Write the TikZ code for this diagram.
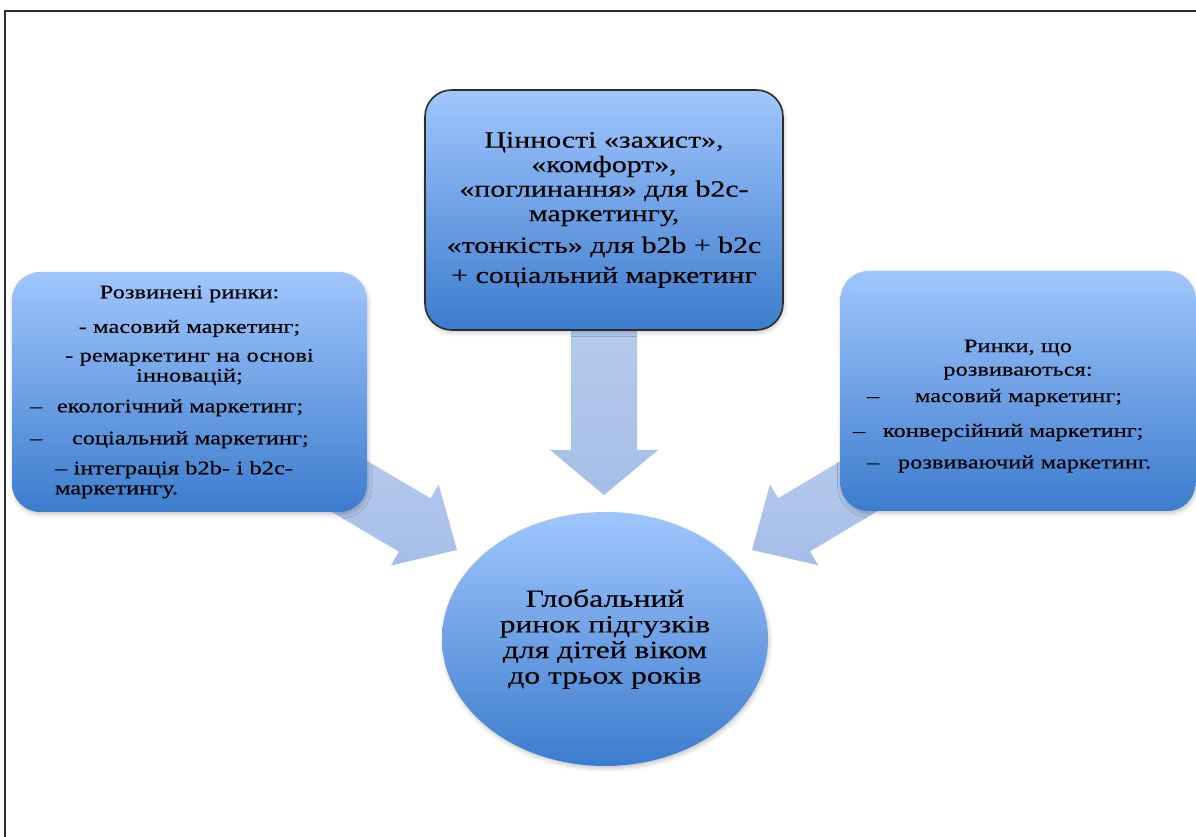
\documentclass[tikz,border=0pt]{standalone}
\usepackage{fontspec}
\setmainfont{Liberation Serif}[FakeStretch=1.28, FakeBold=0.3]
\usetikzlibrary{calc,shapes.geometric,shadows.blur}

\definecolor{panelLight}{RGB}{160,198,253}
\definecolor{panelDark}{RGB}{60,124,205}
\definecolor{arrowLight}{RGB}{192,209,238}
\definecolor{arrowDark}{RGB}{166,190,232}
\definecolor{rimGray}{RGB}{45,45,45}

% one drawing unit = one pixel of the layout grid
\newlength{\pxl}\setlength{\pxl}{0.75pt}

\tikzset{
  softshadow/.style={blur shadow={shadow xshift=0.8pt, shadow yshift=-2pt,
      shadow blur radius=3pt, shadow opacity=22}},
  panel/.style={rectangle, rounded corners=21pt, minimum width=266.25pt,
      minimum height=180pt, inner sep=0pt, top color=panelLight,
      bottom color=panelDark, softshadow},
  hub/.style={ellipse, minimum width=244.5pt, minimum height=190.5pt,
      inner sep=0pt, top color=panelLight, bottom color=panelDark, softshadow},
  arrowbody/.style={top color=arrowLight, bottom color=arrowDark},
  framestyle/.style={line width=1.5pt, draw=rimGray}
}

% block arrow: start, tip, shaft half width, head half width, head length
\newcommand{\blockarrow}[5]{%
  \path ($(#2)!#5!(#1)$) coordinate (hb);
  \path[arrowbody] ($(#1)!#3!90:(#2)$) -- ($(hb)!#3!90:(#2)$)
    -- ($(hb)!#4!90:(#2)$) -- (#2) -- ($(hb)!#4!-90:(#2)$)
    -- ($(hb)!#3!-90:(#2)$) -- ($(#1)!#3!-90:(#2)$) -- cycle;
}

\begin{document}
\begin{tikzpicture}[x=0.75pt, y=-0.75pt]
\useasboundingbox (0,0) rectangle (1196,837);

% page frame
\draw[framestyle] (4.5,837) -- (4.5,11) -- (1196,11);

% anchor points of the boxes and the hub
\coordinate (cT) at (604,210);
\coordinate (cL) at (189.5,392);
\coordinate (cR) at (1018,391);
\coordinate (tipT) at (604,495);
\coordinate (tipL) at (457,550);
\coordinate (tipR) at (752,550);

% block arrows, drawn first so the boxes cover their tails
\blockarrow{cT}{tipT}{24.75pt}{40.5pt}{33.75pt}
\blockarrow{cL}{tipL}{23.25pt}{35.25pt}{36.75pt}
\blockarrow{cR}{tipR}{23.25pt}{35.25pt}{36.75pt}

% values box
\node[panel, draw=rimGray, line width=1.2pt, rounded corners=20pt,
      minimum width=268.5pt, align=center,
      font=\fontsize{17.5}{18.4}\selectfont] (vals) at (cT)
  {Цінності «захист»,\\ «комфорт»,\\ «поглинання» для b2c-\\ маркетингу,\\[5.4pt]
   «тонкість» для b2b + b2c\\[4.1pt] + соціальний маркетинг};

% developed markets
\node[panel, text width=247.5pt, align=left,
      font=\fontsize{14.3}{15}\selectfont] (dev) at (cL)
  {\makebox[\linewidth][c]{Розвинені ринки:}\\[11pt]
   \makebox[\linewidth][c]{- масовий маркетинг;}\\[6.5pt]
   \makebox[\linewidth][c]{- ремаркетинг на основі}\\
   \makebox[\linewidth][c]{інновацій;}\\[8pt]
   \hspace*{5.5\pxl}\rlap{–}\hspace*{27\pxl}екологічний маркетинг;\\[9pt]
   \hspace*{5.5\pxl}\rlap{–}\hspace*{42\pxl}соціальний маркетинг;\\[7.5pt]
   \hspace*{30.5\pxl}– інтеграція b2b- і b2c-\\
   \hspace*{30.5\pxl}маркетингу.};

% emerging markets
\node[panel, text width=255pt, align=left,
      font=\fontsize{14.3}{17.6}\selectfont] (emg) at (cR)
  {\makebox[\linewidth][c]{\rule{0pt}{32pt}Ринки, що}\\
   \makebox[\linewidth][c]{розвиваються:}\\[2.2pt]
   \hspace*{19\pxl}\rlap{–}\hspace*{48\pxl}масовий маркетинг;\\[8.6pt]
   \hspace*{5\pxl}\rlap{–}\hspace*{30\pxl}конверсійний маркетинг;\\[6pt]
   \hspace*{19\pxl}\rlap{–}\hspace*{31\pxl}розвиваючий маркетинг.};

% central market
\node[hub, align=center, font=\fontsize{18.5}{19.2}\selectfont] (glob) at (605,639)
  {Глобальний\\ ринок підгузків\\ для дітей віком\\ до трьох років};
\end{tikzpicture}
\end{document}
